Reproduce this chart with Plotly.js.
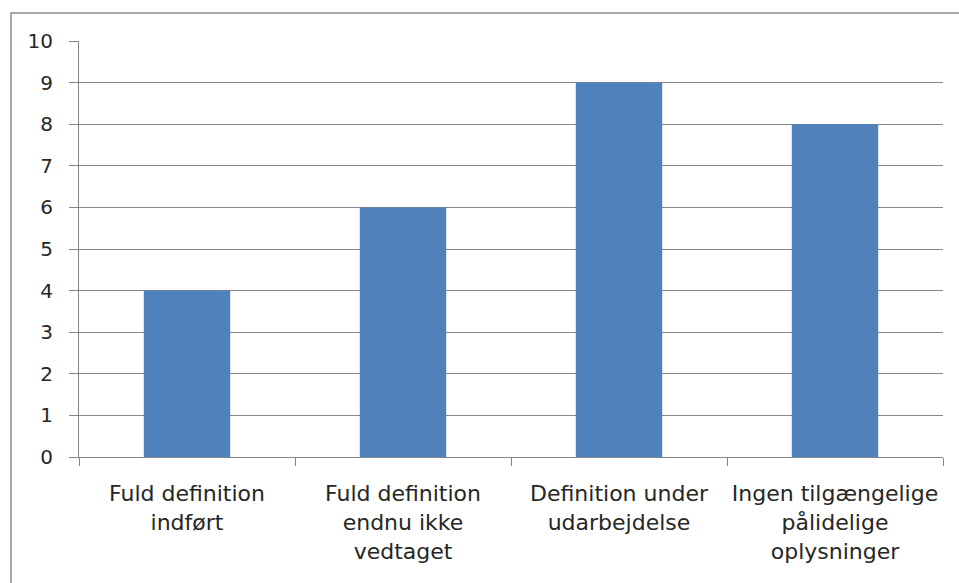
<!DOCTYPE html>
<html>
<head>
<meta charset="utf-8">
<script src="https://cdn.plot.ly/plotly-3.0.1.min.js"></script>
<style>html,body{margin:0;padding:0;background:#fff;}#chart{width:959px;height:583px;}</style>
</head>
<body>
<div id="chart"></div>
<script>
const categories = ["Fuld definition<br>indført", "Fuld definition<br>endnu ikke<br>vedtaget", "Definition under<br>udarbejdelse", "Ingen tilgængelige<br>pålidelige<br>oplysninger"];
const values = [4, 6, 9, 8];
const yTicks = [0, 1, 2, 3, 4, 5, 6, 7, 8, 9, 10];

const fontFam = "'DejaVu Sans', sans-serif";
const trace = {
  type: "bar",
  x: categories,
  y: values,
  marker: {color: "#4F81BD"},
  hoverinfo: "none"
};
const layout = {
  width: 959, height: 583,
  margin: {l: 79, r: 16, t: 41, b: 126},
  paper_bgcolor: "#fff", plot_bgcolor: "#fff",
  showlegend: false,
  bargap: 0.6,
  font: {family: fontFam, size: 19, color: "#262626"},
  xaxis: {
    type: "category",
    tickson: "boundaries",
    ticks: "outside", ticklen: 8, tickcolor: "#868686", tickwidth: 1,
    showgrid: false,
    showline: true, linecolor: "#868686", linewidth: 1,
    tickfont: {family: fontFam, size: 22, color: "#262626"},
    ticklabelstandoff: 17,
    zeroline: false
  },
  yaxis: {
    range: [0, 10],
    tickvals: yTicks,
    ticktext: yTicks.map(String),
    ticks: "outside", ticklen: 9, tickcolor: "#868686",
    showgrid: true, gridcolor: "#868686", gridwidth: 1,
    showline: true, linecolor: "#868686", linewidth: 1,
    zeroline: false,
    ticklabelstandoff: 12,
    tickfont: {family: fontFam, size: 20, color: "#262626"}
  },
  shapes: [{
    type: "rect", xref: "paper", yref: "paper",
    x0: -0.0787, x1: 1.2, y0: -0.6, y1: 1.0673,
    line: {color: "#8c8c8c", width: 1.5}, fillcolor: "rgba(0,0,0,0)", layer: "below"
  }]
};
Plotly.newPlot("chart", [trace], layout, {staticPlot: true, displayModeBar: false});
</script>
</body>
</html>
